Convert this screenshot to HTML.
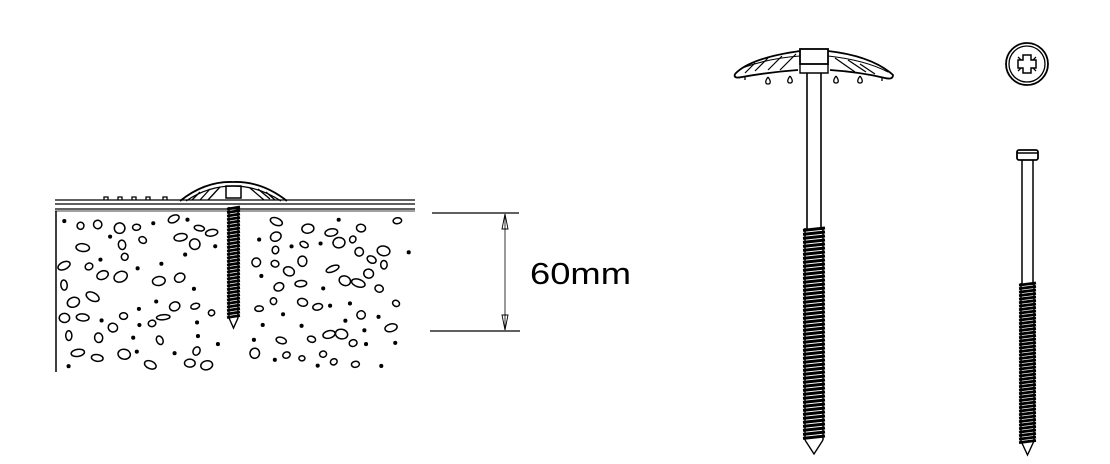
<!DOCTYPE html>
<html><head><meta charset="utf-8"><style>html,body{margin:0;padding:0;background:#fff}svg{display:block}</style></head>
<body>
<svg id="s" width="1110" height="464" viewBox="0 0 1110 464" xmlns="http://www.w3.org/2000/svg" fill="none" stroke="#000" stroke-width="1.3">
<!-- left diagram -->
<line x1="55" y1="200" x2="415" y2="200"/>
<line x1="55" y1="204" x2="415" y2="204"/>
<line x1="55" y1="209" x2="415" y2="209"/>
<line x1="55" y1="211" x2="415" y2="211" stroke-width="0.8"/>
<line x1="56" y1="211" x2="56" y2="372" stroke-width="1.5"/>
<path d="M180 201 Q205 181 233 182 Q262 181 287 201" stroke-width="1.8"/>
<path d="M186 201 Q208 186 233 186 Q258 186 281 201"/>
<path d="M192 200 l8 -8 M200 200 l10 -11 M208 200 l12 -13 M250 188 l14 12 M258 189 l12 10 M266 192 l9 8"/>
<rect x="226" y="186" width="15" height="12" stroke-width="1.5"/>
<path d="M104 200 v-3 h4 v3 M118 200 v-3 h4 v3 M132 200 v-3 h4 v3 M146 200 v-3 h4 v3 M163 200 v-3 h4 v3"/>
<g id="lscrew"></g>
<g id="pebbles" stroke-width="1.5"></g>
<!-- dimension -->
<line x1="432" y1="213" x2="519" y2="213"/>
<line x1="430" y1="331" x2="520" y2="331"/>
<line x1="505" y1="214" x2="505" y2="330" stroke-width="0.8"/>
<path d="M505 214 l-3 15 h6 z M505 330 l-3 -15 h6 z" stroke-width="0.9"/>
<text x="530" y="284" font-family="Liberation Sans, sans-serif" font-size="31" fill="#000" stroke="none" textLength="101" lengthAdjust="spacingAndGlyphs">60mm</text>
<!-- big screw head -->
<path d="M735 74 Q750 58 800 51 M828 51 Q872 56 893 75 Q893 80 885 78 Q860 72 830 70 M735 74 Q733 79 742 77 Q770 72 798 70" stroke-width="1.8"/>
<path d="M742 68 Q770 58 800 56 M828 56 Q865 60 888 72" stroke-width="1"/>
<path d="M745 73 l10 -10 M755 71 l13 -13 M768 70 l14 -14 M780 70 l16 -16 M835 58 l20 14 M848 60 l18 12 M860 64 l15 10" stroke-width="1.2"/>
<rect x="800" y="49" width="28" height="15" stroke-width="1.8"/>
<path d="M800 64 v9 h28 v-9" stroke-width="1.4"/>
<path d="M745 76 v4 M768 77 c-3 4 -3 7 0 7 c3 0 3-3 0-7 M790 76 c-3 4 -3 7 0 7 c3 0 3-3 0-7 M836 76 c-3 4 -3 7 0 7 c3 0 3-3 0-7 M860 76 c-3 4 -3 7 0 7 c3 0 3-3 0-7 M882 77 v4" stroke-width="1.3"/>
<line x1="807" y1="73" x2="807" y2="230" stroke-width="1.6"/>
<line x1="821" y1="73" x2="821" y2="230" stroke-width="1.6"/>
<g id="bscrew"></g>
<!-- small head top view -->
<circle cx="1027" cy="64" r="21" stroke-width="1.8"/>
<circle cx="1027" cy="64" r="18"/>
<path d="M1023 55 h8 v5 h5 v8 h-5 v5 h-8 v-5 h-5 v-8 h5 z" stroke-width="1.5"/>
<path d="M1018 57 l3 3 M1036 57 l-3 3 M1018 71 l3 -3 M1036 71 l-3 -3"/>
<!-- small screw -->
<rect x="1017" y="150" width="21" height="10" rx="2" stroke-width="1.8"/>
<line x1="1017" y1="153" x2="1038" y2="153" stroke-width="1.5"/>
<line x1="1022" y1="160" x2="1022" y2="285" stroke-width="1.5"/>
<line x1="1033" y1="160" x2="1033" y2="285" stroke-width="1.5"/>
<g id="sscrew"></g>
</svg>
<script>
var NS="http://www.w3.org/2000/svg";
function el(g,tag,a){var e=document.createElementNS(NS,tag);for(var k in a)e.setAttribute(k,a[k]);g.appendChild(e);return e;}
function screw(id,xl,xr,y0,y1,tip,step,sw){
 var g=document.getElementById(id);
 el(g,'line',{x1:xl+2,y1:y0,x2:xl+2,y2:y1,'stroke-width':1.5});
 el(g,'line',{x1:xr-2,y1:y0,x2:xr-2,y2:y1,'stroke-width':1.5});
 for(var y=y0;y<y1;y+=step){el(g,'line',{x1:xl,y1:y+step*0.6,x2:xr,y2:y,'stroke-width':sw});}
 var c=(xl+xr)/2;el(g,'path',{d:'M'+(xl+2)+' '+y1+' L'+c+' '+tip+' L'+(xr-2)+' '+y1,'stroke-width':1.4});
}
screw('bscrew',803,825,228,440,454,4,3);
screw('sscrew',1019,1036,283,441,455,3.5,2.7);
screw('lscrew',227,240,207,318,328,3.5,2.7);
var g=document.getElementById('pebbles');
var s=11;function r(){s=(s*16807)%2147483647;return s/2147483647;}
var pts=[];
for(var i=0;i<400&&pts.length<150;i++){
 var x=64+r()*345,y=218+r()*150;
 if(x>218&&x<249)continue;
 var ok=true;for(var j=0;j<pts.length;j++){var dx=pts[j][0]-x,dy=pts[j][1]-y;if(dx*dx+dy*dy<150){ok=false;break;}}
 if(!ok)continue;pts.push([x,y]);
 var t=r();
 if(t<0.3){el(g,'circle',{cx:x,cy:y,r:1.3,fill:'#000'});}
 else{var rx=3+r()*4,ry=2.5+r()*3;if(y+ry>370)continue;el(g,'ellipse',{cx:x,cy:y,rx:rx,ry:ry,transform:'rotate('+(r()*60-30)+' '+x+' '+y+')'});}
}
</script>
</body></html>
